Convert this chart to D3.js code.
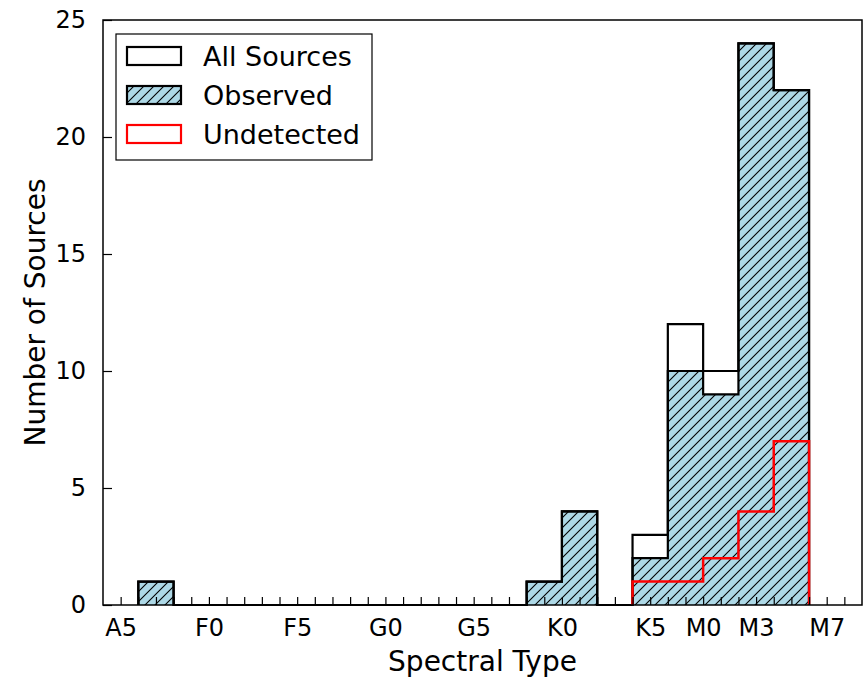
<!DOCTYPE html>
<html>
<head>
<meta charset="utf-8">
<script src="https://cdn.jsdelivr.net/npm/d3@7"></script>
<style>
  html, body { margin: 0; padding: 0; background: #fff; }
  svg { display: block; }
  text { font-family: "DejaVu Sans", sans-serif; fill: #000; }
</style>
</head>
<body>
<svg id="chart" width="863" height="680"></svg>
<script>
// Spectral type coded as a number: A0 = 0, F0 = 10, G0 = 20, K0 = 30 (K0–K7), M0 = 38
const tickValues = [5, 10, 15, 20, 25, 30, 35, 38, 41, 45];
const tickLabels = ["A5", "F0", "F5", "G0", "G5", "K0", "K5", "M0", "M3", "M7"];

// Histogram bins (left edge, width 2 subtypes)
const binLefts   = [6, 28, 30, 34, 36, 38, 40, 42];
const allSources = [1, 1, 4, 3, 12, 10, 24, 22];
const observed   = [1, 1, 4, 2, 10, 9, 24, 22];
const undetected = [0, 0, 0, 1, 1, 2, 4, 7];
const binWidth = 2;

const yTicks = [0, 5, 10, 15, 20, 25];
const legendLabels = ["All Sources", "Observed", "Undetected"];

const svg = d3.select("#chart");
const W = 863, H = 680;
const margin = { left: 103, right: 1, top: 20, bottom: 75 };

const x = d3.scaleLinear().domain([4, 47]).range([margin.left, W - margin.right]);
const y = d3.scaleLinear().domain([0, 25]).range([H - margin.bottom, margin.top]);

// Hatch pattern for the observed histogram
const defs = svg.append("defs");
const pat = defs.append("pattern")
  .attr("id", "hatch")
  .attr("patternUnits", "userSpaceOnUse")
  .attr("width", 10).attr("height", 10);
pat.append("rect").attr("width", 10).attr("height", 10).attr("fill", "#add8e6");
pat.append("path")
  .attr("d", "M-1,1 l2,-2 M0,10 l10,-10 M9,11 l2,-2")
  .attr("stroke", "#000").attr("stroke-width", 1.1);

// Build step outline points for a set of consecutive (possibly gapped) bins
function stepPoints(counts, skipZeroEnds) {
  let idx = binLefts.map((d, i) => i);
  if (skipZeroEnds) idx = idx.filter(i => counts[i] > 0);
  const pts = [];
  let prevRight = null;
  idx.forEach(i => {
    const l = binLefts[i], r = l + binWidth;
    if (prevRight === null) {
      pts.push([l, 0]);
    } else if (prevRight !== l) {
      pts.push([prevRight, 0]);
      pts.push([l, 0]);
    }
    pts.push([l, counts[i]]);
    pts.push([r, counts[i]]);
    prevRight = r;
  });
  pts.push([prevRight, 0]);
  return pts;
}

const line = d3.line().x(d => x(d[0])).y(d => y(d[1]));

const plot = svg.append("g");

// Observed: filled + hatched step histogram
plot.append("path")
  .attr("d", line(stepPoints(observed, false)))
  .attr("fill", "url(#hatch)")
  .attr("stroke", "#000")
  .attr("stroke-width", 2.2)
  .attr("stroke-linejoin", "miter");

// All sources: black step outline
plot.append("path")
  .attr("d", line(stepPoints(allSources, false)))
  .attr("fill", "none")
  .attr("stroke", "#000")
  .attr("stroke-width", 2.2)
  .attr("stroke-linejoin", "miter");

// Undetected: red step outline
plot.append("path")
  .attr("d", line(stepPoints(undetected, true)))
  .attr("fill", "none")
  .attr("stroke", "#ff0000")
  .attr("stroke-width", 2.5)
  .attr("stroke-linejoin", "miter");

// Axes (ticks point inward)
const minorTicks = d3.range(5, 47);
const labelOf = v => {
  const i = tickValues.indexOf(v);
  return i >= 0 ? tickLabels[i] : "";
};

const xAxis = d3.axisBottom(x)
  .tickValues(minorTicks)
  .tickFormat(labelOf)
  .tickSize(-8)
  .tickPadding(14);

const gx = svg.append("g")
  .attr("transform", `translate(0,${y(0)})`)
  .call(xAxis);
gx.select(".domain").remove();
gx.selectAll("line").attr("stroke", "#000").attr("stroke-width", 1.2);
gx.selectAll("text").style("font-size", "24px");

const yAxis = d3.axisLeft(y)
  .tickValues(yTicks)
  .tickFormat(d3.format("d"))
  .tickSize(-9)
  .tickPadding(17);

const gy = svg.append("g")
  .attr("transform", `translate(${x(4)},0)`)
  .call(yAxis);
gy.select(".domain").remove();
gy.selectAll("line").attr("stroke", "#000").attr("stroke-width", 1.2);
gy.selectAll("text").style("font-size", "24px");

// Frame
svg.append("rect")
  .attr("x", x(4)).attr("y", y(25))
  .attr("width", x(47) - x(4)).attr("height", y(0) - y(25))
  .attr("fill", "none").attr("stroke", "#000").attr("stroke-width", 1.5);

// Axis titles
svg.append("text")
  .attr("x", (x(4) + x(47)) / 2)
  .attr("y", 671)
  .attr("text-anchor", "middle")
  .style("font-size", "28px")
  .text("Spectral Type");

svg.append("text")
  .attr("transform", `translate(45,${(y(0) + y(25)) / 2}) rotate(-90)`)
  .attr("text-anchor", "middle")
  .style("font-size", "28px")
  .text("Number of Sources");

// Legend
const lg = svg.append("g").attr("transform", "translate(116,34)");
lg.append("rect")
  .attr("width", 256).attr("height", 126)
  .attr("fill", "#fff").attr("stroke", "#000").attr("stroke-width", 1.2);

const swatchStyles = [
  { fill: "#fff", stroke: "#000" },
  { fill: "url(#hatch)", stroke: "#000" },
  { fill: "#fff", stroke: "#ff0000" }
];
legendLabels.forEach((lab, i) => {
  const cy = 22 + i * 39;
  lg.append("rect")
    .attr("x", 11).attr("y", cy - 9)
    .attr("width", 54).attr("height", 18)
    .attr("fill", swatchStyles[i].fill)
    .attr("stroke", swatchStyles[i].stroke)
    .attr("stroke-width", 2.2);
  lg.append("text")
    .attr("x", 87).attr("y", cy)
    .attr("dy", "0.36em")
    .style("font-size", "27px")
    .text(lab);
});
</script>
</body>
</html>
